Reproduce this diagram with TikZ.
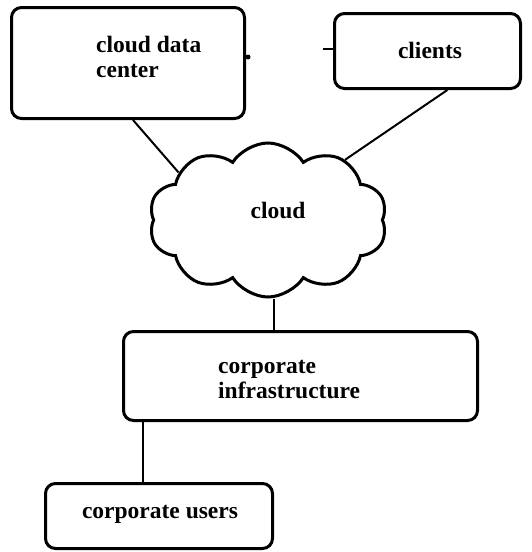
\documentclass[tikz,border=0pt]{standalone}
\usepackage{fontspec}
\setmainfont{Liberation Serif}
\usetikzlibrary{shapes.symbols}

\begin{document}
\begin{tikzpicture}[x=1pt, y=-1pt,
  box/.style={draw, line width=3pt, rounded corners=10pt},
  lbl/.style={font=\fontsize{23.5}{25}\selectfont\bfseries, align=left, inner sep=0pt}]

\useasboundingbox (0,0) rectangle (532,552);

% b o x e s
\node[box, minimum width=233, minimum height=111] (cdc) at (128,63) {};
\node[lbl, anchor=west] (cdctext) at (96,57) {cloud data\\center};
\node[box, minimum width=186, minimum height=75] (clients) at (427.5,51) {};
\node[lbl] (clientstext) at (430,50) {clients};
\node[cloud, draw, line width=3pt, cloud puffs=10, cloud puff arc=115,
  minimum width=238, minimum height=154, inner sep=0pt] (cloud) at (268,220) {};
\node[lbl] (cloudtext) at (278,210) {cloud};
\node[box, minimum width=354, minimum height=89] (infra) at (300.5,376) {};
\node[lbl, anchor=west] (infratext) at (218,380) {corporate\\infrastructure};
\node[box, minimum width=227, minimum height=65] (users) at (159,516) {};
\node[lbl] (userstext) at (160,514) {corporate users};

% l i n e s
\draw[line width=2pt] (cdc.-85) -- (cloud.152);
\draw[line width=2pt] (clients.-63) -- (cloud.38);
\draw[line width=2pt] ([xshift=6pt]cloud.south) -- ([xshift=6pt]cloud.south |- infra.north);
\draw[line width=2pt] ([xshift=21pt]infra.south west) -- ([xshift=21pt]infra.south west |- users.north);

% small marks
\fill ([xshift=2pt]cdc.east) ++(0,-6) circle (2.5pt);
\draw[line width=1.5pt] ([yshift=2pt]clients.west) -- ++(-10,0);
\end{tikzpicture}
\end{document}
